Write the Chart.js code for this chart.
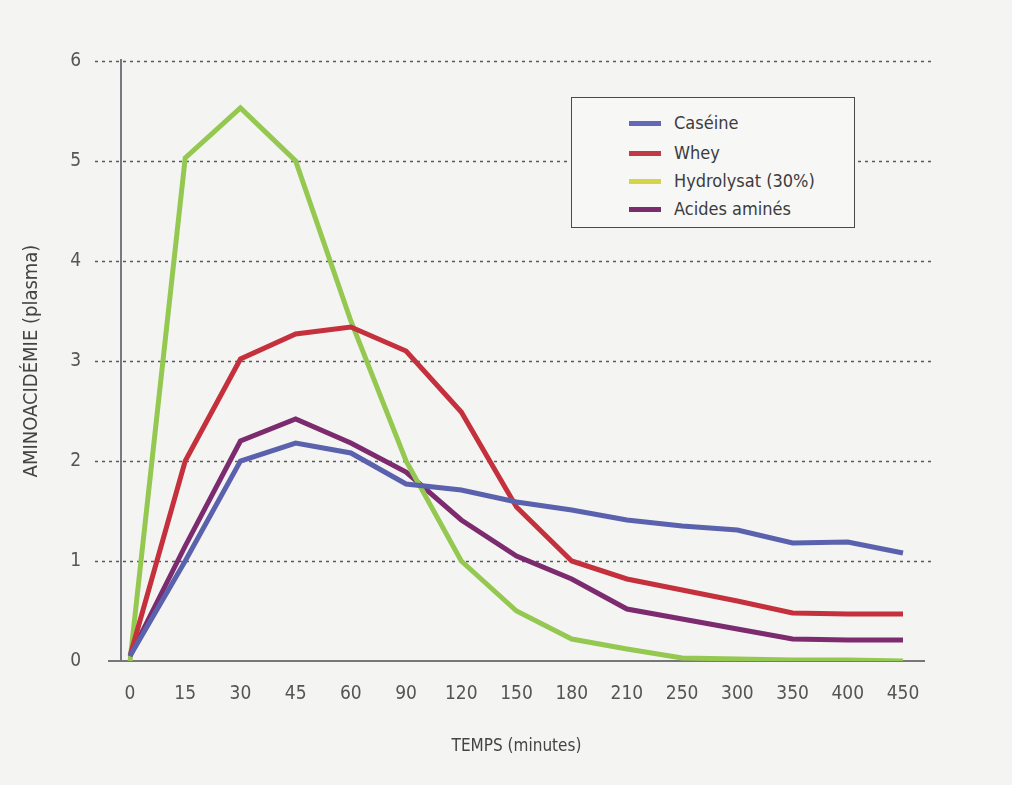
<!DOCTYPE html>
<html>
<head>
<meta charset="utf-8">
<script src="https://cdn.jsdelivr.net/npm/chart.js@4"></script>
<style>
  html, body { margin: 0; padding: 0; background: #f4f4f2; }
  #wrap { position: relative; width: 1012px; height: 785px; }
  #legend {
    position: absolute; left: 571px; top: 97px; width: 282px; height: 129px;
    border: 1.5px solid #4a4a4a; background: #f7f7f6;
    font-family: "Liberation Sans Narrow", "DejaVu Sans Condensed", sans-serif;
    font-size: 18px; color: #3c3c3c;
  }
  .row { position: absolute; left: 0; height: 22px; line-height: 22px; }
  .row .swatch { position: absolute; left: 57px; top: 9px; width: 32px; height: 5px; }
  .row .lbl { position: absolute; left: 102px; white-space: nowrap; }
</style>
</head>
<body>
<div id="wrap">
  <canvas id="chart" width="1012" height="785"></canvas>
  <div id="legend"></div>
</div>
<script>
// temps (minutes) — axe en catégories régulières
const temps = ['0', '15', '30', '45', '60', '90', '120', '150', '180', '210', '250', '300', '350', '400', '450'];

// aminoacidémie (plasma)
const caseine    = [0.05, 1.0, 2.0, 2.18, 2.08, 1.77, 1.71, 1.59, 1.51, 1.41, 1.35, 1.31, 1.18, 1.19, 1.08];
const whey       = [0.05, 2.0, 3.02, 3.27, 3.34, 3.1, 2.49, 1.54, 1.0, 0.82, 0.71, 0.6, 0.48, 0.47, 0.47];
const hydrolysat = [0.0, 5.03, 5.53, 5.0, 3.4, 2.0, 1.0, 0.5, 0.22, 0.12, 0.03, 0.02, 0.01, 0.01, 0.0];
const acides     = [0.05, 1.15, 2.2, 2.42, 2.18, 1.89, 1.41, 1.05, 0.82, 0.52, 0.42, 0.32, 0.22, 0.21, 0.21];

const yTicks = [0, 1, 2, 3, 4, 5, 6];

const FONT = '"Liberation Sans Narrow", "DejaVu Sans Condensed", sans-serif';

const series = [
    { label: 'Caséine', data: caseine, color: '#5b62ad', swatch: '#6468b8' },
    { label: 'Whey', data: whey, color: '#c5303d', swatch: '#c23a45' },
    { label: 'Hydrolysat (30%)', data: hydrolysat, color: '#94c851', swatch: '#d4d54a' },
    { label: 'Acides aminés', data: acides, color: '#7c2b6e', swatch: '#7a2d6c' }
];

// grille en pointillés + axes, dessinés à partir des échelles
const axesPlugin = {
    id: 'axesPlugin',
    beforeDatasetsDraw(chart) {
        const { ctx, chartArea, scales } = chart;
        const y = scales.y;
        ctx.save();
        ctx.strokeStyle = '#5a5a5a';
        ctx.lineWidth = 1.6;
        ctx.setLineDash([3, 4]);
        yTicks.slice(1).forEach(v => {
            const py = Math.round(y.getPixelForValue(v)) + 0.5;
            ctx.beginPath();
            ctx.moveTo(chartArea.left - 35, py);
            ctx.lineTo(chartArea.right + 28, py);
            ctx.stroke();
        });
        ctx.setLineDash([]);
        ctx.strokeStyle = '#6a6a78';
        ctx.lineWidth = 1.8;
        const y0 = y.getPixelForValue(0);
        ctx.beginPath();
        ctx.moveTo(chartArea.left - 9, chartArea.top - 2);
        ctx.lineTo(chartArea.left - 9, y0);
        ctx.stroke();
        ctx.strokeStyle = '#777';
        ctx.beginPath();
        ctx.moveTo(chartArea.left - 22, y0);
        ctx.lineTo(chartArea.right + 22, y0);
        ctx.stroke();
        ctx.restore();
    }
};

new Chart(document.getElementById('chart'), {
    type: 'line',
    data: {
        labels: temps,
        datasets: series.map(s => ({
            label: s.label,
            data: s.data,
            borderColor: s.color,
            borderWidth: 5,
            pointRadius: 0,
            tension: 0,
            fill: false,
            borderJoinStyle: 'miter'
        }))
    },
    options: {
        responsive: false,
        animation: false,
        layout: { padding: { top: 61, right: 109, bottom: 24, left: 0 } },
        plugins: { legend: { display: false }, tooltip: { enabled: false } },
        scales: {
            x: {
                offset: false,
                grid: { display: false },
                border: { display: false },
                ticks: { color: '#555', font: { family: FONT, size: 19 }, padding: 14, autoSkip: false, maxRotation: 0 },
                title: { display: true, text: 'TEMPS (minutes)', color: '#444', font: { family: FONT, size: 17 }, padding: { top: 26 } },
                afterFit(scale) { scale.height = 100; }
            },
            y: {
                min: 0,
                max: 6,
                grid: { display: false },
                border: { display: false },
                afterBuildTicks(scale) { scale.ticks = yTicks.map(v => ({ value: v })); },
                ticks: { color: '#555', font: { family: FONT, size: 19 }, padding: 41 },
                title: { display: true, text: 'AMINOACIDÉMIE (plasma)', color: '#444', font: { family: FONT, size: 20 }, padding: { bottom: 0, top: 20 } },
                afterFit(scale) { scale.width = 130; }
            }
        }
    },
    plugins: [axesPlugin]
});

// légende HTML
const legend = document.getElementById('legend');
const rowTops = [14, 44, 72, 100];
series.forEach((s, i) => {
    const row = document.createElement('div');
    row.className = 'row';
    row.style.top = rowTops[i] + 'px';
    row.innerHTML = `<span class="swatch" style="background:${s.swatch}"></span><span class="lbl">${s.label}</span>`;
    legend.appendChild(row);
});
</script>
</body>
</html>
